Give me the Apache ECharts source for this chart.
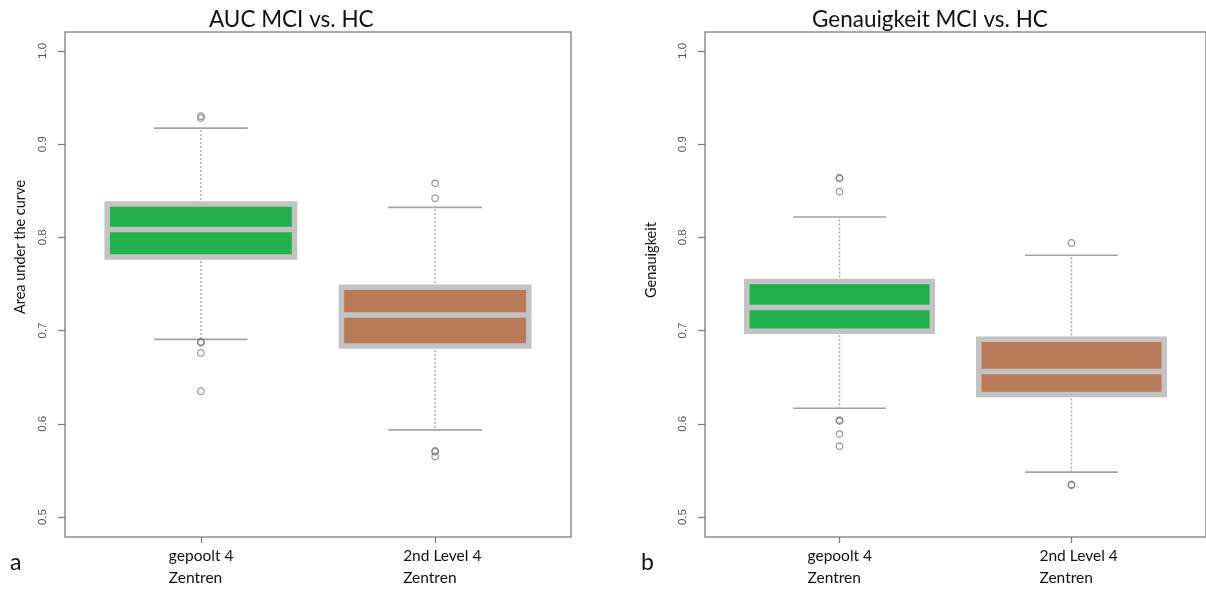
<!DOCTYPE html>
<html><head><meta charset="utf-8">
<script src="https://cdn.jsdelivr.net/npm/echarts@6/dist/echarts.min.js"></script>
<style>html,body{margin:0;padding:0;background:#fff}#c{width:1206px;height:589px}</style>
</head><body><div id="c"></div>
<script>
const categories = ['gepoolt 4\nZentren', '2nd Level 4\nZentren'];
const positions = [1, 2];
const yTicks = [0.5, 0.6, 0.7, 0.8, 0.9, 1.0];
// each row: [lower whisker, Q1, median, Q3, upper whisker]
const aucStats = [
  [0.6906, 0.7789, 0.8084, 0.8357, 0.9172],
  [0.5935, 0.6834, 0.7168, 0.7466, 0.8322]
];
const aucOutliers = [
  [0.930, 0.928, 0.688, 0.687, 0.676, 0.635],
  [0.858, 0.842, 0.571, 0.570, 0.565]
];
const accStats = [
  [0.6167, 0.6994, 0.7248, 0.7527, 0.8219],
  [0.5482, 0.6314, 0.6561, 0.6906, 0.7808]
];
const accOutliers = [
  [0.864, 0.863, 0.849, 0.604, 0.603, 0.589, 0.576],
  [0.794, 0.535, 0.534]
];
const titles = ['AUC MCI vs. HC', 'Genauigkeit MCI vs. HC'];
const yNames = ['Area under the curve', 'Genauigkeit'];
const panelLetters = ['a', 'b'];
const fills = ['#22b14c', '#b97a57'];

function boxData(stats) { return stats.map((s, i) => [positions[i], s[0], s[1], s[2], s[3], s[4], i]); }
function outlierData(outs) {
  const r = [];
  outs.forEach((arr, i) => arr.forEach(v => r.push([positions[i], v])));
  return r;
}
const BORDER = '#c3c3c3';
const WHISK = '#a3a3a3';
function renderBox(params, api) {
  const x = api.value(0);
  const lo = api.value(1), q1 = api.value(2), med = api.value(3), q3 = api.value(4), hi = api.value(5);
  const idx = api.value(6);
  const half = 0.4, capHalf = 0.2;
  const tl = api.coord([x - half, q3]), br = api.coord([x + half, q1]);
  const c = api.coord([x, med]);
  const pHi = api.coord([x, hi]), pLo = api.coord([x, lo]);
  const cL = api.coord([x - capHalf, hi])[0], cR = api.coord([x + capHalf, hi])[0];
  const mL = tl[0], mR = br[0];
  return {
    type: 'group',
    children: [
      { type: 'line', shape: { x1: c[0], y1: tl[1], x2: c[0], y2: pHi[1] }, style: { stroke: WHISK, lineWidth: 1.3, lineDash: [2, 2] } },
      { type: 'line', shape: { x1: c[0], y1: br[1], x2: c[0], y2: pLo[1] }, style: { stroke: WHISK, lineWidth: 1.3, lineDash: [2, 2] } },
      { type: 'line', shape: { x1: cL, y1: pHi[1], x2: cR, y2: pHi[1] }, style: { stroke: WHISK, lineWidth: 1.6 } },
      { type: 'line', shape: { x1: cL, y1: pLo[1], x2: cR, y2: pLo[1] }, style: { stroke: WHISK, lineWidth: 1.6 } },
      { type: 'rect', shape: { x: tl[0], y: tl[1], width: br[0] - tl[0], height: br[1] - tl[1] }, style: { fill: fills[idx], stroke: BORDER, lineWidth: 5.5 } },
      { type: 'line', shape: { x1: mL, y1: c[1], x2: mR, y2: c[1] }, style: { stroke: BORDER, lineWidth: 5.5 } }
    ]
  };
}

const chart = echarts.init(document.getElementById('c'), null, { renderer: 'canvas' });
const grids = [
  { left: 65, top: 32, width: 506, height: 505 },
  { left: 705, top: 32, width: 506, height: 505 }
];
function xAxis(gi) {
  return {
    type: 'value', gridIndex: gi, min: 0.42, max: 2.58,
    axisLine: { show: false }, splitLine: { show: false },
    axisTick: { show: true, customValues: positions, length: 6, lineStyle: { color: '#777', width: 1.2 } },
    axisLabel: {
      customValues: positions, formatter: v => categories[Math.round(v) - 1],
      align: 'left', padding: [0, 0, 0, -32], margin: 8,
      fontFamily: 'Lato', fontSize: 15.5, lineHeight: 22, color: '#111'
    }
  };
}
function yAxis(gi) {
  return {
    type: 'value', gridIndex: gi, min: 0.4786, max: 1.0203,
    axisLine: { show: false }, splitLine: { show: false },
    axisTick: { show: true, customValues: yTicks, length: 7, lineStyle: { color: '#777', width: 1.2 } },
    axisLabel: {
      customValues: yTicks, formatter: v => v.toFixed(1), rotate: 90, margin: 16,
      fontFamily: 'Liberation Sans', fontSize: 11.5, color: '#555'
    }
  };
}
const outlierStyle = { color: 'rgba(0,0,0,0)', borderColor: '#777', borderWidth: 1.2 };
chart.setOption({
  animation: false,
  backgroundColor: '#fff',
  title: [
    { text: titles[0], left: 204, top: 3, textStyle: { fontFamily: 'Lato', fontSize: 22.5, fontWeight: 'normal', color: '#111' } },
    { text: titles[1], left: 807, top: 3, textStyle: { fontFamily: 'Lato', fontSize: 22.5, fontWeight: 'normal', color: '#111' } }
  ],
  grid: grids.map(g => Object.assign({ show: true, borderColor: '#8e8e8e', borderWidth: 1.5, backgroundColor: 'transparent' }, g)),
  xAxis: [xAxis(0), xAxis(1)],
  yAxis: [yAxis(0), yAxis(1)],
  graphic: [
    { type: 'text', x: 20, y: 247, rotation: Math.PI / 2, style: { text: yNames[0], fontFamily: 'Lato', fontSize: 14.5, fill: '#111', align: 'center', verticalAlign: 'middle' } },
    { type: 'text', x: 651, y: 260, rotation: Math.PI / 2, style: { text: yNames[1], fontFamily: 'Lato', fontSize: 14.5, fill: '#111', align: 'center', verticalAlign: 'middle' } },
    { type: 'text', x: 10, y: 563, style: { text: panelLetters[0], fontFamily: 'Lato', fontSize: 23, fill: '#111', align: 'left', verticalAlign: 'middle' } },
    { type: 'text', x: 641, y: 563, style: { text: panelLetters[1], fontFamily: 'Lato', fontSize: 23, fill: '#111', align: 'left', verticalAlign: 'middle' } }
  ],
  series: [
    { type: 'custom', xAxisIndex: 0, yAxisIndex: 0, renderItem: renderBox, data: boxData(aucStats), silent: true },
    { type: 'scatter', xAxisIndex: 0, yAxisIndex: 0, symbol: 'circle', symbolSize: 6.5, itemStyle: outlierStyle, data: outlierData(aucOutliers), silent: true, z: 5 },
    { type: 'custom', xAxisIndex: 1, yAxisIndex: 1, renderItem: renderBox, data: boxData(accStats), silent: true },
    { type: 'scatter', xAxisIndex: 1, yAxisIndex: 1, symbol: 'circle', symbolSize: 6.5, itemStyle: outlierStyle, data: outlierData(accOutliers), silent: true, z: 5 }
  ]
});
</script></body></html>
